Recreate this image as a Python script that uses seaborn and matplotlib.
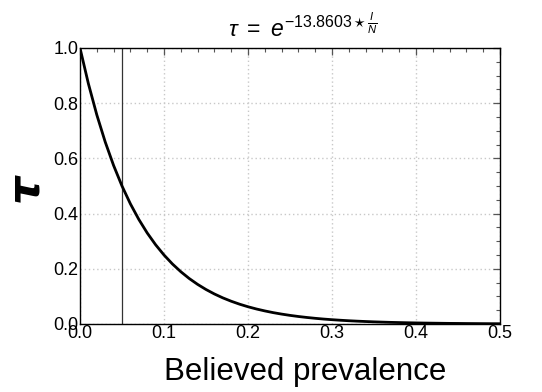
import numpy as np
import pandas as pd
import matplotlib
matplotlib.use("Agg")
import matplotlib.pyplot as plt
import seaborn as sns
from matplotlib.ticker import MultipleLocator

prevalence = [0.00, 0.01, 0.02, 0.03, 0.04, 0.05, 0.06, 0.07, 0.08, 0.09,
              0.10, 0.11, 0.12, 0.13, 0.14, 0.15, 0.16, 0.17, 0.18, 0.19,
              0.20, 0.21, 0.22, 0.23, 0.24, 0.25, 0.26, 0.27, 0.28, 0.29,
              0.30, 0.31, 0.32, 0.33, 0.34, 0.35, 0.36, 0.37, 0.38, 0.39,
              0.40, 0.41, 0.42, 0.43, 0.44, 0.45, 0.46, 0.47, 0.48, 0.49, 0.50]
tau = [1.0, 0.8706, 0.7579, 0.6598, 0.5744, 0.5000, 0.4353, 0.3790, 0.3299, 0.2872,
       0.2500, 0.2176, 0.1895, 0.1649, 0.1436, 0.1250, 0.1088, 0.0947, 0.0825, 0.0718,
       0.0625, 0.0544, 0.0474, 0.0412, 0.0359, 0.03125, 0.0272, 0.0237, 0.0206, 0.0179,
       0.0156, 0.0136, 0.0118, 0.0103, 0.0090, 0.0078, 0.0068, 0.0059, 0.0052, 0.0045,
       0.0039, 0.0034, 0.0030, 0.0026, 0.0022, 0.0020, 0.0017, 0.0015, 0.0013, 0.0011, 0.0010]
marker_x = 0.05
x_ticks = [0.0, 0.1, 0.2, 0.3, 0.4, 0.5]
y_ticks = [0.0, 0.2, 0.4, 0.6, 0.8, 1.0]

sns.set_style("white")
plt.rcParams['font.family'] = ['Liberation Sans', 'DejaVu Sans']
plt.rcParams['mathtext.fontset'] = 'custom'
plt.rcParams['mathtext.rm'] = 'Liberation Sans'
plt.rcParams['mathtext.it'] = 'Liberation Sans:italic'
plt.rcParams['mathtext.sf'] = 'Liberation Sans'
plt.rcParams['text.color'] = 'black'
plt.rcParams['axes.labelcolor'] = 'black'

df = pd.DataFrame({"x": prevalence, "tau": tau})

fig = plt.figure(figsize=(5.42, 3.92), dpi=100)
ax = fig.add_axes([80/542, 1 - 324/392, 420/542, 276/392])

ax.grid(True, which='major', color='#c8c8c8', linestyle=(0, (1, 2)), linewidth=1.0)
ax.axvline(marker_x, color='#333333', linewidth=0.9, zorder=2)
sns.lineplot(data=df, x="x", y="tau", ax=ax, color='black', linewidth=2.0, zorder=3)

ax.set_xlim(0, 0.5)
ax.set_ylim(0, 1.0)
ax.set_xticks(x_ticks)
ax.set_yticks(y_ticks)
ax.set_xticklabels([f"{v:.1f}" for v in x_ticks])
ax.set_yticklabels([f"{v:.1f}" for v in y_ticks])
ax.xaxis.set_minor_locator(MultipleLocator(0.02))
ax.yaxis.set_minor_locator(MultipleLocator(0.05))
ax.tick_params(which='both', direction='in', top=True, right=True, colors='#555555',
               labelcolor='black', labelsize=13, pad=1)
ax.tick_params(which='major', length=5, width=0.9)
ax.tick_params(which='minor', length=3, width=0.8)
for s in ax.spines.values():
    s.set_color('black')
    s.set_linewidth(1.0)

ax.set_xlabel("Believed prevalence", fontsize=22.5)
ax.xaxis.set_label_coords(0.536, -0.12, transform=ax.transAxes)
ax.xaxis.label.set_va('top')
ax.set_ylabel("τ", fontsize=32, fontweight='bold', style='italic',
              family=['DejaVu Sans'], rotation=90)
ax.yaxis.set_label_coords(-0.132, 0.495, transform=ax.transAxes)
ax.yaxis.label.set_va('center')
ax.yaxis.label.set_ha('center')
ax.text(0.53, 1.02, r"$\tau\ =\ e^{-13.8603\star\frac{I}{N}}$", transform=ax.transAxes,
        ha='center', va='bottom', fontsize=16.5)

fig.savefig("out.png", dpi=100)
